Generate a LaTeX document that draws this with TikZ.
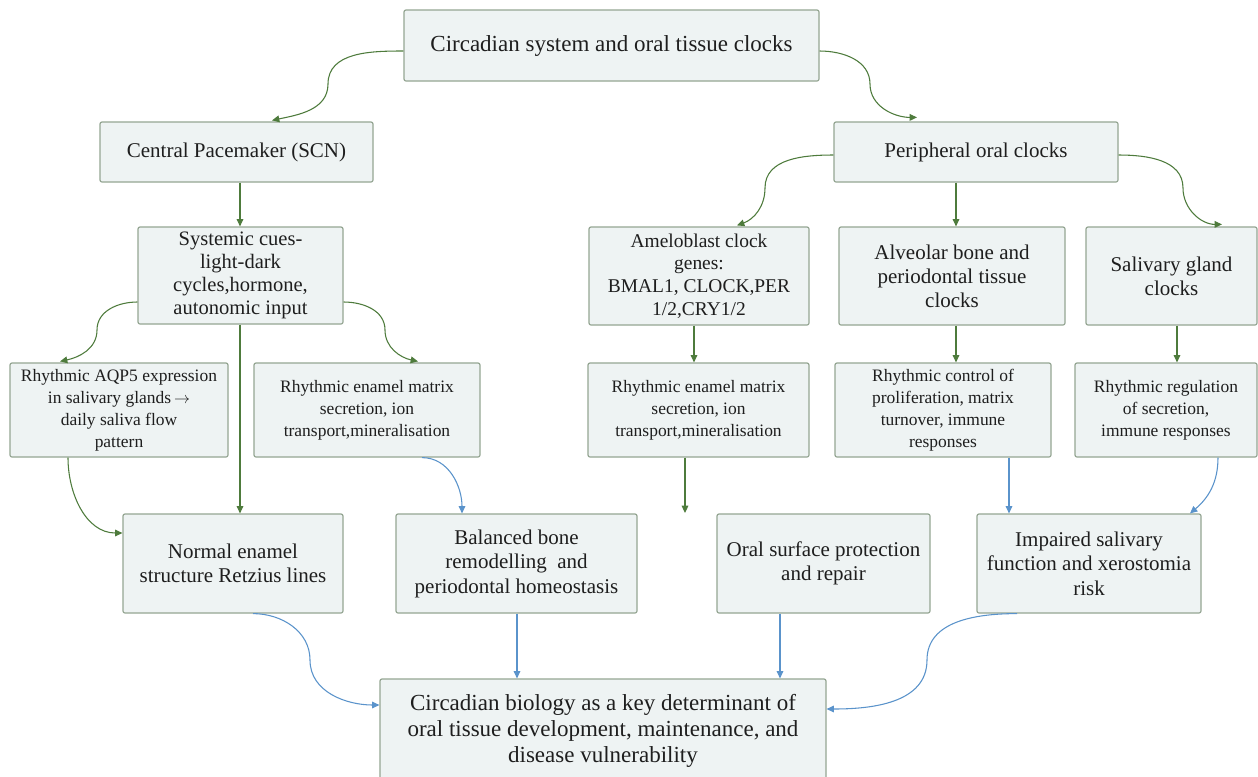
\documentclass[tikz,border=0pt]{standalone}
\usepackage{fontspec}
\setmainfont{Liberation Serif}
\usetikzlibrary{arrows.meta,calc}
\definecolor{gline}{HTML}{4E7B3C}
\definecolor{bline}{HTML}{5A93CB}
\definecolor{boxfill}{HTML}{EEF3F3}
\definecolor{boxdraw}{HTML}{95A693}
\definecolor{txt}{HTML}{1E1E1E}
\begin{document}
\begin{tikzpicture}[x=0.75pt,y=-0.75pt,
  box/.style={draw=boxdraw, fill=boxfill, line width=0.9pt, rounded corners=1.5pt, inner sep=0pt, align=center, text=txt},
  wh/.style 2 args={minimum width=#1*0.75pt, minimum height=#2*0.75pt},
  fA/.style={font=\fontsize{17.25}{19.5}\selectfont},
  fB/.style={font=\fontsize{15.75}{18}\selectfont},
  fS/.style={font=\fontsize{15.4}{17.3}\selectfont},
  fM/.style={font=\fontsize{14.6}{17}\selectfont},
  fC/.style={font=\fontsize{13.1}{16.5}\selectfont},
  fD/.style={font=\fontsize{15.75}{18.4}\selectfont},
  garrow/.style={draw=gline, line width=0.8pt, -{Triangle[length=5.5pt,width=5pt]}},
  barrow/.style={draw=bline, line width=0.8pt, -{Triangle[length=5.5pt,width=5pt]}}]
\useasboundingbox (0,0) rectangle (1258,776);
\clip (0,0) rectangle (1258,776);
\fill[white] (0,0) rectangle (1258,776);

% nodes
\node[box,wh={415}{71},fA] (top) at (611.5,45.5) {Circadian system and oral tissue clocks};
\node[box,wh={273}{60},fB] (cp) at (236.5,152) {Central Pacemaker (SCN)};
\node[box,wh={284}{60},fB] (per) at (976,152) {Peripheral oral clocks};
\node[box,wh={205}{97},fS] (sys) at (240.5,275.5) {Systemic cues-\\light-dark\\cycles,hormone,\\autonomic input};
\node[box,wh={220}{98},fM] (amel) at (699,276) {Ameloblast clock\\genes:\\BMAL1, CLOCK,PER\\1/2,CRY1/2};
\node[box,wh={226}{98},fB] (alv) at (952,276) {Alveolar bone and\\periodontal tissue\\clocks};
\node[box,wh={171}{98},fB] (sal) at (1171.5,276) {Salivary gland\\clocks};
\node[box,wh={218}{94},fC] (aqp) at (119,410) {Rhythmic AQP5 expression\\in salivary glands\,$\rightarrow$\\daily saliva flow\\pattern};
\node[box,wh={226}{94},fC] (enL) at (367,410) {Rhythmic enamel matrix\\secretion, ion\\transport,mineralisation};
\node[box,wh={221}{94},fC] (enR) at (698.5,410) {Rhythmic enamel matrix\\secretion, ion\\transport,mineralisation};
\node[box,wh={216}{94},fC] (ctrl) at (943,410) {Rhythmic control of\\proliferation, matrix\\turnover, immune\\responses};
\node[box,wh={182}{94},fC] (reg) at (1166,410) {Rhythmic regulation\\of secretion,\\immune responses};
\node[box,wh={220}{99},fD] (norm) at (233,563.5) {Normal enamel\\structure Retzius lines};
\node[box,wh={241}{99},fD] (bal) at (516.5,563.5) {Balanced bone\\remodelling\ \ and\\periodontal homeostasis};
\node[box,wh={213}{99},fD] (oral) at (823.5,563.5) {Oral surface protection\\and repair};
\node[box,wh={224}{99},fD] (imp) at (1089,563.5) {Impaired salivary\\function and xerostomia\\risk};
\node[box,wh={446}{104},fA] (circ) at (603,731) {Circadian biology as a key determinant of\\oral tissue development, maintenance, and\\disease vulnerability};

% helper coordinates
\coordinate (c1) at ($(sys.north)+(-0.5,0)$);
\coordinate (c2) at ($(alv.north)+(4,0)$);
\coordinate (c3) at ($(amel.south)+(-5,0)$);
\coordinate (c4) at ($(alv.south)+(4,0)$);
\coordinate (c5) at ($(sal.south)+(5.5,0)$);
\coordinate (c6) at ($(sys.south)+(-0.5,0)$);
\coordinate (c7) at ($(enR.south)+(-13.5,0)$);
\coordinate (freeend) at (685,513);
\coordinate (c8) at ($(ctrl.south)+(66,0)$);
\coordinate (c9) at ($(bal.south)+(0.5,0)$);
\coordinate (c10) at ($(oral.south)+(-43.5,0)$);

% green connectors
\draw[garrow] ($(top.west)+(0,5.5)$) to[out=180,in=90] (328,84) to[out=-90,in=12] ($(cp.north)+(35.5,-1)$);
\draw[garrow] ($(top.east)+(0,5.5)$) to[out=0,in=90] (870,84) to[out=-90,in=180] ($(per.north)+(-59,-4)$);
\draw[garrow] (c1 |- cp.south) -- (c1);
\draw[garrow] (c2 |- per.south) -- (c2);
\draw[garrow] ($(per.west)+(0,3)$) to[out=180,in=90] (765,188) to[out=-90,in=20] ($(amel.north)+(38,-1)$);
\draw[garrow] ($(per.east)+(0,3)$) to[out=0,in=90] (1183,188) to[out=-90,in=180] ($(sal.north)+(50.5,-2)$);
\draw[garrow] ($(sys.west)+(0,26.5)$) to[out=180,in=90] (97,330) to[out=-90,in=12] ($(aqp.north)+(-59,-1)$);
\draw[garrow] ($(sys.east)+(0,26.5)$) to[out=0,in=90] (385,330) to[out=-90,in=168] ($(enL.north)+(51,-1)$);
\draw[garrow] (c3) -- (c3 |- enR.north);
\draw[garrow] (c4) -- (c4 |- ctrl.north);
\draw[garrow] (c5) -- (c5 |- reg.north);
\draw[garrow] (c6) -- (c6 |- norm.north);
\draw[garrow] ($(aqp.south)+(-51,0)$) to[out=-90,in=180] ($(norm.west)+(0,-30.5)$);
\draw[garrow] (c7) -- (freeend);

% blue connectors
\draw[barrow] ($(enL.south)+(55,0)$) to[out=0,in=90] ($(bal.north)+(-54.5,0)$);
\draw[barrow] (c8) -- (c8 |- imp.north);
\draw[barrow] ($(reg.south)+(52,0)$) to[out=-90,in=40] ($(imp.north)+(101,0)$);
\draw[barrow] ($(norm.south)+(20,0)$) to[out=0,in=90] (310,660) to[out=-90,in=180] ($(circ.west)+(0,-26)$);
\draw[barrow] (c9) -- (c9 |- circ.north);
\draw[barrow] (c10) -- (c10 |- circ.north);
\draw[barrow] ($(imp.south)+(-72,0)$) to[out=180,in=90] (927,660) to[out=-90,in=0] ($(circ.east)+(0,-22)$);
\end{tikzpicture}
\end{document}
